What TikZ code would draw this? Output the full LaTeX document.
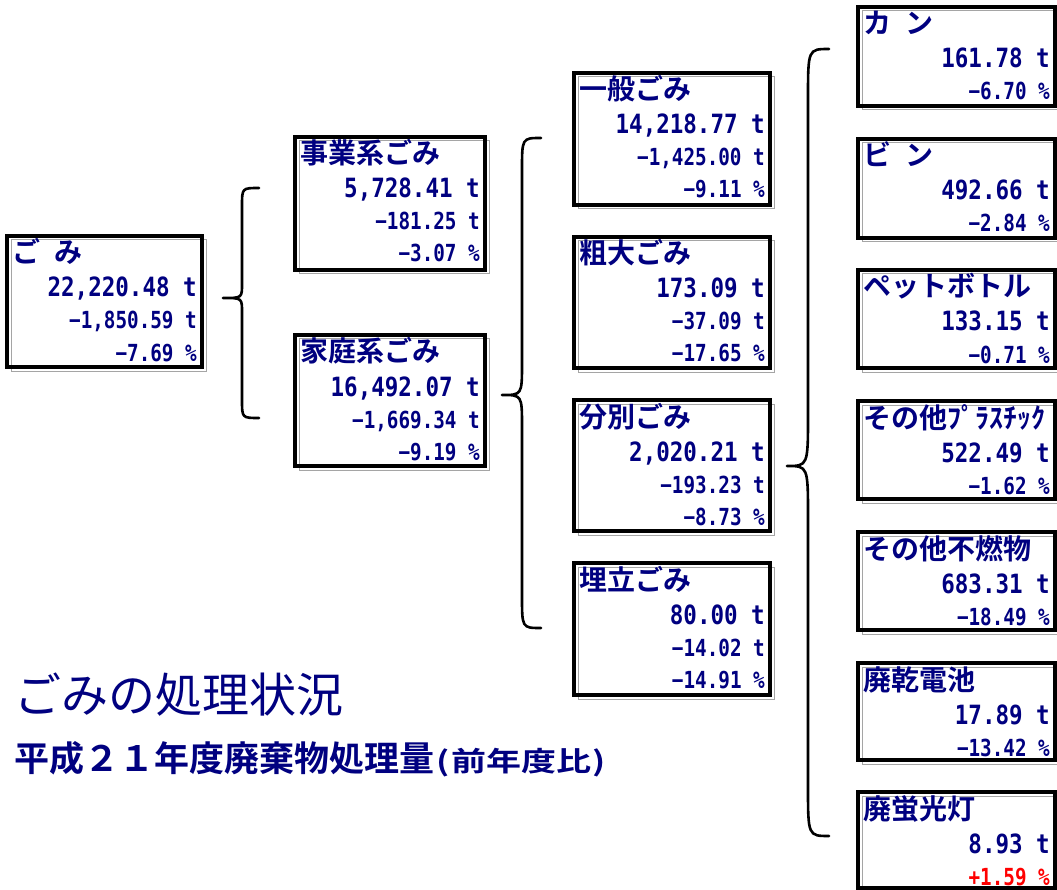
\documentclass[tikz,border=0pt]{standalone}
\usepackage{graphicx}
\usepackage{fontspec}
\newfontfamily\jpb{Noto Sans CJK JP Bold}
\newfontfamily\jpr{Noto Sans CJK JP}
\newfontfamily\numA{DejaVu Sans Mono Bold}[FakeStretch=0.85]
\newfontfamily\numB{DejaVu Sans Mono Bold}[FakeStretch=0.82]
\definecolor{navy}{RGB}{0,0,128}
\definecolor{shadowgray}{RGB}{165,165,165}
\tikzset{
  lbl/.style={anchor=base west, inner sep=0pt, text=navy, font=\jpb\fontsize{28}{28}\selectfont},
  bignum/.style={anchor=base east, inner sep=0pt, text=navy, font=\numA\fontsize{26.5}{26.5}\selectfont},
  smallnum/.style={anchor=base east, inner sep=0pt, text=navy, font=\numB\fontsize{23.5}{23.5}\selectfont},
  boxshade/.style={line width=1pt, draw=shadowgray},
  boxframe/.style={line width=3.5pt, draw=black},
  bracestroke/.style={line width=2.6pt, draw=black, line cap=round, line join=round},
}
% name, x1, y1, x2, y2, label, line1, line2, line3
\newcommand\fourbox[9]{%
  \fill[white] (#2,#3) rectangle (#4,#5);
  \draw[boxshade] (#2+4,#3+4) rectangle (#4+4,#5+4);
  \draw[boxframe] (#2,#3) rectangle (#4,#5);
  \node[lbl] (#1-l) at (#2+5,#3+27) {#6};
  \node[bignum] (#1-a) at (#4-5,#3+61) {#7};
  \node[smallnum] (#1-b) at (#4-5,#3+93) {#8};
  \node[smallnum] (#1-c) at (#4-5,#3+125) {#9};
}
% name, x1, y1, x2, y2, label, line1, line2
\newcommand\threebox[8]{%
  \fill[white] (#2,#3) rectangle (#4,#5);
  \draw[boxshade] (#2+4,#3+4) rectangle (#4+4,#5+4);
  \draw[boxframe] (#2,#3) rectangle (#4,#5);
  \node[lbl] (#1-l) at (#2+5,#3+27) {#6};
  \node[bignum] (#1-a) at (#4-5,#3+61) {#7};
  \node[smallnum] (#1-b) at (#4-5,#3+93) {#8};
}
% xtip, xv, xe, ytop, ymid, ybot, rend, rmid
\newcommand\curlybrace[8]{%
  \draw[bracestroke] (#3,#4) .. controls (#2,#4) .. (#2,#4+#7)
    -- (#2,#5-#8) .. controls (#2,#5) .. (#1,#5)
    .. controls (#2,#5) .. (#2,#5+#8)
    -- (#2,#6-#7) .. controls (#2,#6) .. (#3,#6);
}
\begin{document}
\begin{tikzpicture}[x=1pt,y=-1pt]
\useasboundingbox[fill=white] (0,0) rectangle (1057,890);

% braces
\curlybrace{223}{242}{259}{188}{298}{418}{18}{14}
\curlybrace{502}{522}{541}{138}{395}{628}{32}{32}
\curlybrace{787}{808}{829}{49}{466}{836}{50}{52}

% level 0
\fourbox{gomi}{7}{236}{202}{367}{ご\hspace{0.5em}み}{22,220.48 t}{−1,850.59 t}{−7.69 \%}
% level 1
\fourbox{jigyo}{295}{137}{485}{270}{事業系ごみ}{5,728.41 t}{−181.25 t}{−3.07 \%}
\fourbox{katei}{295}{335}{485}{466}{家庭系ごみ}{16,492.07 t}{−1,669.34 t}{−9.19 \%}
% level 2
\fourbox{ippan}{574}{73}{770}{205}{一般ごみ}{14,218.77 t}{−1,425.00 t}{−9.11 \%}
\fourbox{sodai}{574}{237}{770}{368}{粗大ごみ}{173.09 t}{−37.09 t}{−17.65 \%}
\fourbox{bunbetsu}{574}{400}{770}{531}{分別ごみ}{2,020.21 t}{−193.23 t}{−8.73 \%}
\fourbox{umetate}{574}{563}{770}{695}{埋立ごみ}{80.00 t}{−14.02 t}{−14.91 \%}
% level 3
\threebox{kan}{858}{7}{1055}{106}{カ\hspace{0.5em}ン}{161.78 t}{−6.70 \%}
\threebox{bin}{858}{139}{1055}{238}{ビ\hspace{0.5em}ン}{492.66 t}{−2.84 \%}
\threebox{pet}{858}{270}{1055}{368}{ペットボトル}{133.15 t}{−0.71 \%}
\threebox{pla}{858}{401}{1055}{499}{その他ﾌﾟﾗｽﾁｯｸ}{522.49 t}{−1.62 \%}
\threebox{funen}{858}{532}{1055}{630}{その他不燃物}{683.31 t}{−18.49 \%}
\threebox{denchi}{858}{663}{1055}{760}{廃乾電池}{17.89 t}{−13.42 \%}
\threebox{keiko}{858}{792}{1055}{888}{廃蛍光灯}{8.93 t}{\textcolor{red}{+1.59 \%}}

% titles
\node[anchor=base west, inner sep=0pt, text=navy, font=\jpr\fontsize{47}{47}\selectfont] (title) at (14,712) {ごみの処理状況};
\node[anchor=base west, inner sep=0pt, text=navy, font=\jpb\fontsize{35}{35}\selectfont] (subtitle) at (14,771) {平成２１年度廃棄物処理量\hspace{2pt}\scalebox{1}[0.78]{\makebox[15pt][l]{(}前年度比\makebox[15pt][r]{)}}};
\end{tikzpicture}
\end{document}
